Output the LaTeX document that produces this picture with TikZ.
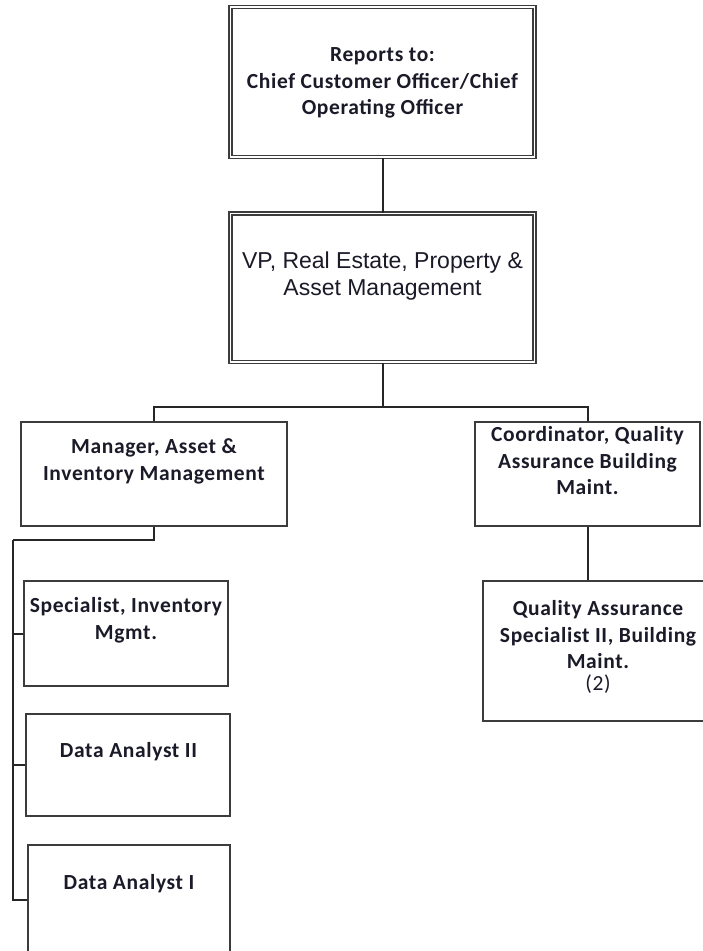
\documentclass[tikz,border=0pt]{standalone}
\usepackage{fontspec}
\setmainfont{Carlito}[LetterSpace=3]
\newfontfamily\arialfont{Liberation Sans}
\definecolor{linec}{HTML}{3C3C3C}
\definecolor{connc}{HTML}{262626}
\definecolor{txtc}{HTML}{1A1A28}
\tikzset{
  box/.style={draw=linec, line width=2pt, fill=white, inner sep=0pt},
  dbox/.style={draw=linec, double=white, double distance=1.4pt, line width=1.6pt, inner sep=0pt},
  conn/.style={draw=connc, line width=2pt},
  lbl/.style={align=center, text=txtc, inner sep=0pt, font=\fontsize{21.5}{26.5}\selectfont\bfseries},
  vplbl/.style={align=center, text=txtc, inner sep=0pt, font=\fontsize{23}{27}\selectfont\arialfont}
}
\begin{document}
\begin{tikzpicture}[x=1pt,y=-1pt]
\useasboundingbox[fill=white] (0,0) rectangle (702,951);
% boxes
\node[dbox, minimum width=304pt, minimum height=150pt] (top) at (382.5,82) {};
\node[dbox, minimum width=304pt, minimum height=148.5pt] (vp) at (382.5,287.75) {};
\node[box, minimum width=266pt, minimum height=104pt] (mgr) at (154,474) {};
\node[box, minimum width=225pt, minimum height=104pt] (coord) at (587.5,474) {};
\node[box, minimum width=230pt, minimum height=140.5pt] (qa) at (598,650.75) {};
\node[box, minimum width=204pt, minimum height=105pt] (spec) at (126,633.5) {};
\node[box, minimum width=204pt, minimum height=102pt] (da2) at (128,765) {};
\node[box, minimum width=202.5pt, minimum height=110pt] (da1) at (128.75,900) {};
% labels
\node[lbl] (topt) at (382.5,83) {Reports to:\\Chief Customer Officer/Chief\\Operating Officer};
\node[vplbl] (vpt) at (382.5,276) {VP, Real Estate, Property \&\\Asset Management};
\node[lbl] (mgrt) at (154,461.5) {Manager, Asset \&\\Inventory Management};
\node[lbl] (coordt) at (587.5,461) {Coordinator, Quality\\Assurance Building\\Maint.};
\node[lbl] (qat) at (598,647) {Quality Assurance\\Specialist II, Building\\Maint.\\[-4.5pt]{\mdseries (2)}};
\node[lbl] (spect) at (126,620.5) {Specialist, Inventory\\Mgmt.};
\node[lbl] (da2t) at (128.5,752) {Data Analyst II};
\node[lbl] (da1t) at (129,884) {Data Analyst I};
% connectors
\coordinate (bus) at (382.5,407);
\coordinate (spine) at (13,540);
\draw[conn] (top.south) -- (vp.north);
\draw[conn] (vp.south) -- (bus);
\draw[conn] (mgr.north) |- (bus) -| (coord.north);
\draw[conn] (coord.south) -- (coord.south |- qa.north);
\draw[conn] (mgr.south) |- (spine);
\draw[conn] (spine) |- (spec.west);
\draw[conn] (spine) |- (da2.west);
\draw[conn] (spine) |- (da1.west);
\end{tikzpicture}
\end{document}
